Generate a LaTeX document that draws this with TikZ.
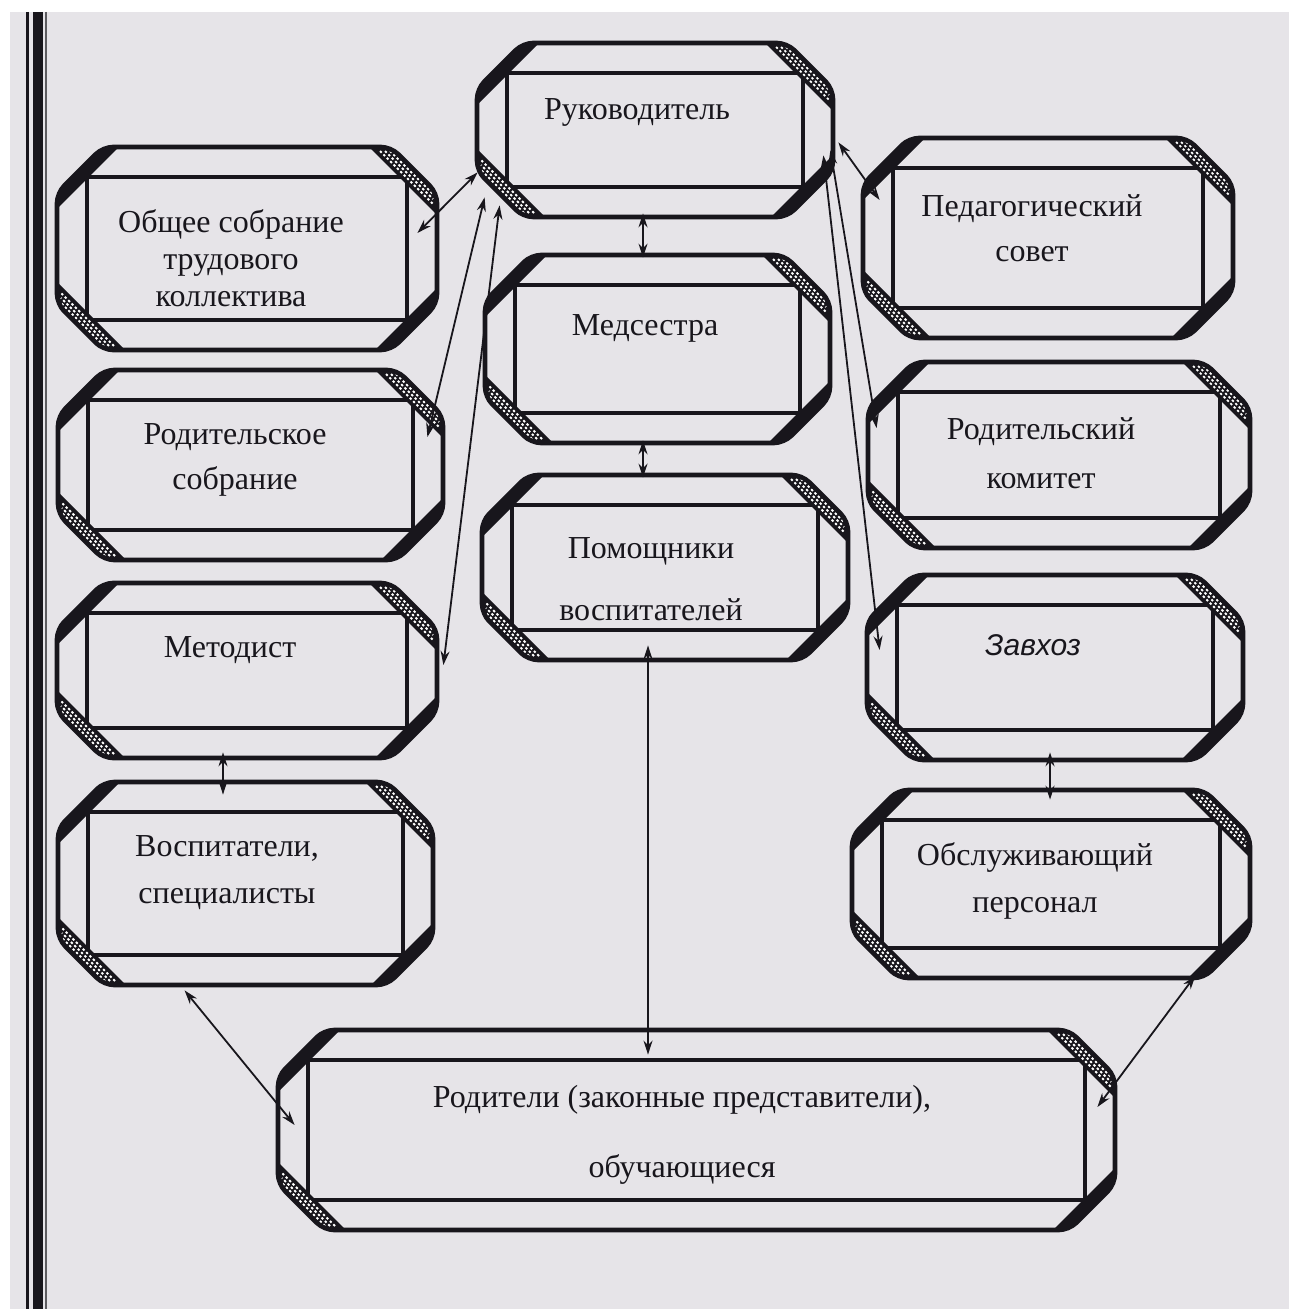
\documentclass[tikz,border=0pt]{standalone}
\usepackage{fontspec}
\setmainfont{Liberation Serif}
\newfontfamily\zavfont{Liberation Sans}
\usetikzlibrary{calc,arrows.meta}
\definecolor{bg}{RGB}{230,228,232}
\definecolor{ink}{RGB}{24,22,28}
% #1 name, #2 left, #3 top, #4 right, #5 bottom (px)
\newcommand\bevbox[5]{%
  \node[boxnode, minimum width={(#4-#2)*0.5pt}, minimum height={(#5-#3)*0.5pt}] (#1) at ({(#2+#4)/2},{(#3+#5)/2}) {};
  \draw[inedge] ({#2+30},{#3+30}) rectangle ({#4-30},{#5-30});
  \fill[ink] ({#2+46},#3) -- (#2,{#3+46}) -- (#2,{#3+62}) -- ({#2+62},#3) -- cycle;
  \fill[ink] ({#4-46},#5) -- (#4,{#5-46}) -- (#4,{#5-62}) -- ({#4-62},#5) -- cycle;
  \fill[ink] ({#4-46},#3) -- (#4,{#3+46}) -- (#4,{#3+68}) -- ({#4-68},#3) -- cycle;
  \fill[ink] ({#2+46},#5) -- (#2,{#5-46}) -- (#2,{#5-68}) -- ({#2+68},#5) -- cycle;
  \foreach \k in {52,57,62}{%
    \draw[hatchline] ({#4-\k+5},{#3+4}) -- ({#4-4},{#3+\k-5});
    \draw[hatchline] ({#2+\k-5},{#5-4}) -- ({#2+4},{#5-\k+5});
  }
  \draw[edge] ({#2+46},#3) -- ({#4-46},#3) -- (#4,{#3+46}) -- (#4,{#5-46}) -- ({#4-46},#5) -- ({#2+46},#5) -- (#2,{#5-46}) -- (#2,{#3+46}) -- cycle;
}
\begin{document}
\begin{tikzpicture}[x=0.5pt,y=-0.5pt,
  boxnode/.style={draw=none, inner sep=0pt, rectangle},
  edge/.style={draw=ink, line width=2.3pt, line join=round, rounded corners=5pt},
  inedge/.style={draw=ink, line width=1.8pt},
  hatchline/.style={draw=white, line width=0.9pt, dash pattern=on 1.2pt off 1.2pt},
  conn/.style={draw=ink, line width=0.9pt, {Stealth[length=7pt,width=4.5pt]}-{Stealth[length=7pt,width=4.5pt]}},
  lbl/.style={text=ink, font=\fontsize{16}{22.5}\selectfont, align=center, inner sep=0pt}]
\useasboundingbox (0,0) rectangle (1289,1309);
\fill[white] (0,0) rectangle (1289,1309);
\fill[bg] (10,12) rectangle (1289,1309);
\draw[ink, line width=1.5pt] (27,12) -- (27,1309);
\draw[ink, line width=5pt] (38,12) -- (38,1309);
\draw[ink!70, line width=0.8pt] (46,12) -- (46,1309);

\bevbox{ruk}{477}{43}{833}{217}
\bevbox{obs}{57}{147}{437}{350}
\bevbox{ped}{863}{138}{1233}{338}
\bevbox{med}{485}{255}{830}{443}
\bevbox{rso}{58}{370}{443}{560}
\bevbox{rk}{868}{362}{1250}{548}
\bevbox{pom}{482}{475}{848}{660}
\bevbox{met}{57}{583}{437}{758}
\bevbox{zav}{867}{575}{1243}{760}
\bevbox{vos}{58}{782}{433}{985}
\bevbox{obsl}{852}{790}{1250}{978}
\bevbox{rod}{278}{1030}{1115}{1230}

\node[lbl] (ruk-t) at (637,112) {Руководитель};
\node[lbl, font=\fontsize{16}{18.5}\selectfont] (obs-t) at (231,258) {Общее собрание\\трудового\\коллектива};
\node[lbl] (ped-t) at (1032,228) {Педагогический\\совет};
\node[lbl] (med-t) at (645,328) {Медсестра};
\node[lbl] (rso-t) at (235,460) {Родительское\\собрание};
\node[lbl, font=\fontsize{16}{24.5}\selectfont] (rk-t) at (1041,453) {Родительский\\комитет};
\node[lbl, font=\fontsize{16}{31}\selectfont] (pom-t) at (651,579) {Помощники\\воспитателей};
\node[lbl] (met-t) at (230,650) {Методист};
\node[lbl, font=\zavfont\itshape\fontsize{15}{18}\selectfont] (zav-t) at (1033,645) {Завхоз};
\node[lbl, font=\fontsize{16}{23.5}\selectfont] (vos-t) at (227,873) {Воспитатели,\\специалисты};
\node[lbl, font=\fontsize{16}{23.5}\selectfont] (obsl-t) at (1035,881) {Обслуживающий\\персонал};
\node[lbl, font=\fontsize{16}{35}\selectfont] (rod-t) at (682,1135) {Родители (законные представители),\\обучающиеся};

\draw[conn] ($(ruk.south west)+(1,-45)$) -- ($(obs.east)+(-20,-15.5)$);
\draw[conn] ($(ruk.south west)+(8,-20)$) -- ($(rso.east)+(-16,-28)$);
\draw[conn] ($(ruk.south west)+(23,-12)$) -- ($(met.east)+(6,-5.5)$);
\draw[conn] ($(ruk.south east)+(5,-75)$) -- ($(ped.west)+(17,-38)$);
\draw[conn] ($(ruk.south east)+(-3,-67)$) -- ($(rk.west)+(9,-27)$);
\draw[conn] ($(ruk.south east)+(-10,-62)$) -- ($(zav.west)+(13,-17.5)$);
\draw[conn] ($(ruk.south)+(-12,-4)$) -- ($(med.north)+(-14.5,3)$);
\draw[conn] ($(med.south)+(-14.5,-3)$) -- ($(pom.north)+(-22,3)$);
\draw[conn] ($(pom.south)+(-17,-15)$) -- ($(rod.north)+(-48.5,25)$);
\draw[conn] ($(met.south)+(-24,-6)$) -- ($(vos.north)+(-22.5,13)$);
\draw[conn] ($(zav.south)+(-5,-8)$) -- ($(obsl.north)+(-1,10)$);
\draw[conn] ($(vos.south west)+(127,5)$) -- ($(rod.west)+(17,-5)$);
\draw[conn] ($(obsl.south east)+(-55,-3)$) -- ($(rod.east)+(-18,-23)$);
\end{tikzpicture}
\end{document}
